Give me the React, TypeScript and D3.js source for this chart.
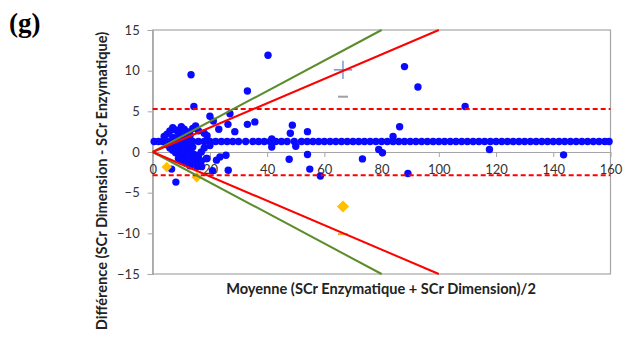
import * as d3 from 'd3'
import { useRef, useEffect } from 'react'

// Bland-Altman: Dimension vs Enzymatique
const xTicks = [0, 20, 40, 60, 80, 100, 120, 140, 160]
const yTicks = [-15, -10, -5, 0, 5, 10, 15]

const meanDiff = 1.3
const upperLoA = 5.3
const lowerLoA = -2.85

// the dense row of points sitting on the mean difference
const bandX = [
  0.5, 2, 3.5, 5, 6.5, 8, 9.5, 11, 12.5, 14, 16, 18, 20, 22, 24, 26, 28, 30, 32.5, 35, 37, 39, 41, 43,
  45, 47, 49.5, 52, 54, 56, 58, 60, 62, 64, 66, 68, 70, 72, 74, 76, 78, 80, 82, 84, 86, 88, 90, 92,
  94, 96, 98, 100, 102, 104, 106, 108, 110, 112, 114, 116, 118, 120, 122, 124, 126, 128, 130, 132,
  134, 136, 138, 140, 142, 144, 146, 148, 150, 152, 154, 156, 158, 159.5
]

// scattered points [moyenne, différence]
const scatter = [
  [40.3, 11.9], [13.4, 9.5], [33.1, 7.5], [14.4, 5.6], [20, 4.4], [21.2, 3.8], [27, 4.7],
  [35.7, 3.7], [33.1, 3.4], [28.7, 2.5], [26.3, 3.4], [23.1, 2.8], [48.8, 3.3], [48.1, 2.3],
  [54.1, 2.5], [47.7, -0.9], [50, 0.7], [54.1, -0.3], [54.9, -2.1], [58.6, -2.95], [41.6, 1.6],
  [41.6, 0.6], [26.4, -2.25], [25.6, -0.4], [23.5, -0.6], [20.9, -2.3], [8.1, -3.7], [6.6, -2.1],
  [13, -1.7], [19, -0.8], [17.1, -1.8], [88, 10.5], [92.7, 8.0], [109.2, 5.6], [86.3, 3.1],
  [84, 1.9], [73.3, -0.85], [79, 0.3], [80.3, -0.1], [89.2, -2.65], [117.7, 0.3], [143.6, -0.35],
  [22.3, -1.0], [15.9, -0.4], [18.8, -0.8], [15.4, -1.8], [11.5, -1.35], [9.5, -0.8],
  [5, 2.2], [6, 2.6], [7, 3.0], [8, 2.7], [9, 2.4], [10, 3.1], [11, 2.8], [12, 2.5], [13, 2.2],
  [14, 2.9], [15, 3.2], [16, 2.6], [6, 0.5], [7, 0.2], [8, -0.1], [9, 0.4], [10, -0.3], [11, 0.1],
  [12, -0.5], [13, 0.3], [14, -0.2], [15, -0.4], [16, -0.7], [17, 0.0], [8, 0.8], [9, 1.9],
  [10, 2.0], [11, 1.7], [12, 0.7], [13, 1.9], [14, 0.6], [7, 1.8], [5, 0.9], [4, 1.9], [18, 0.5],
  [11, -1.0], [12, -1.2], [13, -0.8], [14, -1.3], [15, -1.0], [9, -0.8], [10, -1.1], [16, -1.5],
  [17, -1.1], [18, 2.3], [19, 2.0], [20, 0.8], [7.5, 1.2], [9, 1.0], [10.5, 0.5], [12.5, 1.3]
]

const diamonds = [[4.9, -1.85], [15.4, -3.1], [66.5, -6.7]]
const bluePlus = [66.5, 10.1]
const grayDash = [66.5, 6.8]
const orangeDash = [66.5, -10.1]

// proportional limits: ±k * moyenne
const redSlope = 0.15
const greenSlope = 0.1875

const App = () => {
  const ref = useRef(null)

  useEffect(() => {
    const svg = d3.select(ref.current)
    svg.selectAll('*').remove()

    const x = d3.scaleLinear().domain([0, 160]).range([152.7, 610.5])
    const y = d3.scaleLinear().domain([-15, 15]).range([274, 30])
    const font = 'Lato, "Open Sans", sans-serif'
    const grid = '#a6a6a6'

    // frame
    svg
      .append('rect')
      .attr('x', x(0))
      .attr('y', y(15))
      .attr('width', x(160) - x(0))
      .attr('height', y(-15) - y(15))
      .attr('fill', 'none')
      .attr('stroke', grid)
      .attr('stroke-width', 1.2)

    const yAxis = svg
      .append('g')
      .attr('transform', 'translate(' + x(0) + ',0)')
      .call(d3.axisLeft(y).tickValues(yTicks).tickSize(5).tickPadding(8).tickFormat(d3.format('d')))
    yAxis.select('.domain').attr('stroke', grid).attr('stroke-width', 1.2)
    yAxis.selectAll('line').attr('stroke', grid)
    yAxis.selectAll('text').attr('font-family', font).attr('font-size', 13).attr('fill', '#333')

    const xAxis = svg
      .append('g')
      .attr('transform', 'translate(0,' + y(0) + ')')
      .call(d3.axisBottom(x).tickValues(xTicks).tickSize(5).tickSizeOuter(0).tickPadding(8))
    xAxis.select('.domain').attr('stroke', grid).attr('stroke-width', 1.2)
    xAxis.selectAll('line').attr('stroke', grid)
    xAxis.selectAll('text').attr('font-family', font).attr('font-size', 13).attr('fill', '#333')

    // points
    const dots = svg.append('g').attr('fill', '#0a0aff')
    dots
      .selectAll('circle.band')
      .data(bandX)
      .enter()
      .append('circle')
      .attr('cx', (d) => x(d))
      .attr('cy', y(meanDiff))
      .attr('r', 3.7)
    dots
      .selectAll('circle.pt')
      .data(scatter)
      .enter()
      .append('circle')
      .attr('cx', (d) => x(d[0]))
      .attr('cy', (d) => y(d[1]))
      .attr('r', 3.7)

    // other markers
    svg
      .append('g')
      .selectAll('path')
      .data(diamonds)
      .enter()
      .append('path')
      .attr('d', (d, i) => d3.symbol(d3.symbolDiamond2, i === 2 ? 95 : 70)())
      .attr('transform', (d) => 'translate(' + x(d[0]) + ',' + y(d[1]) + ')')
      .attr('fill', '#ffc000')

    svg
      .append('path')
      .attr('d', d3.symbol(d3.symbolCross2 ?? d3.symbolPlus, 110)())
      .attr('transform', 'translate(' + x(bluePlus[0]) + ',' + y(bluePlus[1]) + ')')
      .attr('fill', 'none')
      .attr('stroke', '#5b7fc7')
      .attr('stroke-width', 1.2)

    svg
      .append('line')
      .attr('x1', x(grayDash[0]) - 5)
      .attr('x2', x(grayDash[0]) + 5)
      .attr('y1', y(grayDash[1]))
      .attr('y2', y(grayDash[1]))
      .attr('stroke', '#a0a0a0')
      .attr('stroke-width', 2)

    svg
      .append('line')
      .attr('x1', x(orangeDash[0]) - 5)
      .attr('x2', x(orangeDash[0]) + 5)
      .attr('y1', y(orangeDash[1]))
      .attr('y2', y(orangeDash[1]))
      .attr('stroke', '#f5a623')
      .attr('stroke-width', 2)

    // limits of agreement
    ;[upperLoA, lowerLoA].forEach((v) => {
      svg
        .append('line')
        .attr('x1', x(0))
        .attr('x2', x(160))
        .attr('y1', y(v))
        .attr('y2', y(v))
        .attr('stroke', '#ff0000')
        .attr('stroke-width', 2)
        .attr('stroke-dasharray', '5,3')
    })

    // proportional lines, clipped at ±15
    const lines = [
      { k: greenSlope, c: '#5b8c2a' },
      { k: -greenSlope, c: '#5b8c2a' },
      { k: redSlope, c: '#ff0000' },
      { k: -redSlope, c: '#ff0000' }
    ]
    const line = d3
      .line()
      .x((d) => x(d[0]))
      .y((d) => y(d[1]))
    lines.forEach((l) => {
      const xEnd = Math.min(160, 15 / Math.abs(l.k))
      svg
        .append('path')
        .attr('d', line([[0, 0], [xEnd, l.k * xEnd]]))
        .attr('fill', 'none')
        .attr('stroke', l.c)
        .attr('stroke-width', 2)
    })

    // titles
    svg
      .append('text')
      .attr('x', 381)
      .attr('y', 294)
      .attr('text-anchor', 'middle')
      .attr('font-family', font)
      .attr('font-weight', 'bold')
      .attr('font-size', 14.6)
      .attr('fill', '#222')
      .text('Moyenne (SCr Enzymatique + SCr Dimension)/2')

    svg
      .append('text')
      .attr('transform', 'translate(107,181) rotate(-90)')
      .attr('text-anchor', 'middle')
      .attr('font-family', font)
      .attr('font-weight', 'bold')
      .attr('font-size', 14.6)
      .attr('fill', '#222')
      .text('Différence (SCr Dimension - SCr Enzymatique)')

    svg
      .append('text')
      .attr('x', 9)
      .attr('y', 32)
      .attr('font-family', '"Liberation Serif", "Times New Roman", serif')
      .attr('font-weight', 'bold')
      .attr('font-size', 27)
      .attr('fill', '#000')
      .text('(g)')
  }, [])

  return (
    <svg
      ref={ref}
      width={625}
      height={338}
      style={{ position: 'absolute', left: 0, top: 0, background: '#fff' }}
    ></svg>
  )
}

export default App
